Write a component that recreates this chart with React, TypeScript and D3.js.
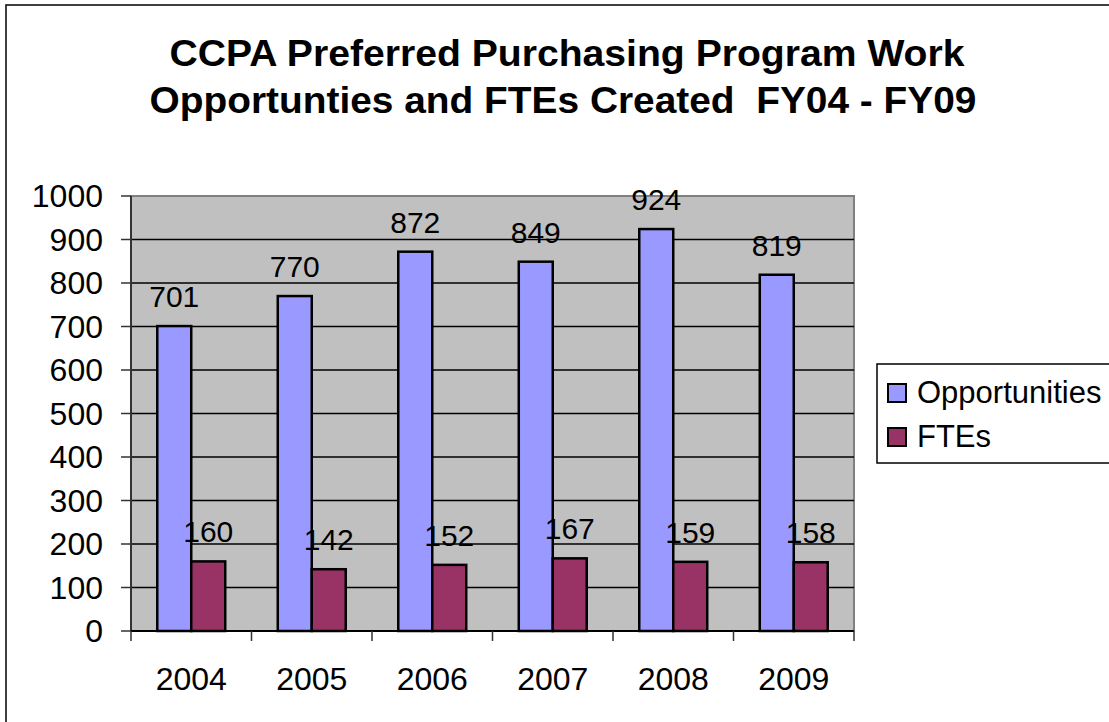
import React from 'react';
import * as d3 from 'd3';

const years = ['2004', '2005', '2006', '2007', '2008', '2009'];
const opportunities = [701, 770, 872, 849, 924, 819];
const ftes = [160, 142, 152, 167, 159, 158];
const yTicks = [0, 100, 200, 300, 400, 500, 600, 700, 800, 900, 1000];
const seriesNames = ['Opportunities', 'FTEs'];
const seriesColors = ['#9999FF', '#993366'];
const titleLines = [
  'CCPA Preferred Purchasing Program Work',
  'Opportunties and FTEs Created\u00a0\u00a0FY04 - FY09',
];

const App = () => {
  const Width = 1109;
  const Height = 722;
  const plot = { left: 131, right: 854, top: 196, bottom: 631 };
  const font = 'Liberation Sans, Arial, sans-serif';

  const yScale = d3.scaleLinear().domain([0, 1000]).range([plot.bottom, plot.top]);

  // category slots (for ticks / labels) and bar groups inside them
  const xSlot = d3.scaleBand().domain(years).range([plot.left, plot.right]).padding(0);
  const xGroup = d3
    .scaleBand()
    .domain(years)
    .range([plot.left, plot.right])
    .paddingInner(0.436)
    .paddingOuter(0.218);
  const xSeries = d3.scaleBand().domain(seriesNames).range([0, xGroup.bandwidth()]);

  const values = [opportunities, ftes];

  const bars = years.map((yr, i) => (
    <g key={yr} transform={`translate(${xGroup(yr)}, 0)`}>
      {seriesNames.map((s, si) => {
        const v = values[si][i];
        const x = xSeries(s) as number;
        return (
          <g key={s}>
            <rect
              x={x}
              y={yScale(v)}
              width={xSeries.bandwidth()}
              height={plot.bottom - yScale(v)}
              fill={seriesColors[si]}
              stroke="#000"
              strokeWidth={2.5}
            />
            <text
              x={x + xSeries.bandwidth() / 2}
              y={yScale(v) - 19}
              textAnchor="middle"
              style={{ fontSize: '30px', fontFamily: font }}
            >
              {v}
            </text>
          </g>
        );
      })}
    </g>
  ));

  const slotEdges = [...years.map((y) => xSlot(y) as number), plot.right];
  const titleX = [567, 563];
  const titleLen = [795, 827];

  return (
    <svg
      width={Width}
      height={Height}
      style={{ position: 'absolute', left: 0, top: 0, display: 'block', background: '#fff' }}
    >
      <rect x={6} y={5} width={1200} height={800} fill="#fff" stroke="#000" strokeWidth={1.5} />

      {titleLines.map((t, i) => (
        <text
          key={i}
          x={titleX[i]}
          y={66 + i * 47}
          textAnchor="middle"
          textLength={titleLen[i]}
          lengthAdjust="spacingAndGlyphs"
          style={{ fontSize: '36px', fontWeight: 'bold', fontFamily: font }}
        >
          {t}
        </text>
      ))}

      <rect
        x={plot.left}
        y={plot.top}
        width={plot.right - plot.left}
        height={plot.bottom - plot.top}
        fill="#C0C0C0"
        stroke="#808080"
        strokeWidth={2}
      />

      {yTicks.filter((t) => t > 0 && t < 1000).map((t) => (
        <line key={t} x1={plot.left} x2={plot.right} y1={yScale(t)} y2={yScale(t)} stroke="#000" strokeWidth={1.5} />
      ))}

      {bars}

      {/* y axis */}
      <line x1={plot.left} x2={plot.left} y1={plot.top} y2={plot.bottom} stroke="#333" strokeWidth={2} />
      {yTicks.map((t) => (
        <g key={t}>
          <line x1={plot.left - 10} x2={plot.left} y1={yScale(t)} y2={yScale(t)} stroke="#333" strokeWidth={1.5} />
          <text
            x={plot.left - 28}
            y={yScale(t) + 11}
            textAnchor="end"
            style={{ fontSize: '32px', fontFamily: font }}
          >
            {t}
          </text>
        </g>
      ))}

      {/* x axis */}
      <line x1={plot.left} x2={plot.right} y1={plot.bottom} y2={plot.bottom} stroke="#000" strokeWidth={2} />
      {slotEdges.map((x, i) => (
        <line key={i} x1={x} x2={x} y1={plot.bottom} y2={plot.bottom + 10} stroke="#333" strokeWidth={1.5} />
      ))}
      {years.map((yr) => (
        <text
          key={yr}
          x={(xSlot(yr) as number) + xSlot.bandwidth() / 2}
          y={690}
          textAnchor="middle"
          style={{ fontSize: '32px', fontFamily: font }}
        >
          {yr}
        </text>
      ))}

      {/* legend */}
      <rect x={877} y={364} width={300} height={99} fill="#fff" stroke="#000" strokeWidth={1.5} />
      {seriesNames.map((s, i) => (
        <g key={s} transform={`translate(888, ${384 + i * 44})`}>
          <rect x={0} y={0} width={18} height={18} fill={seriesColors[i]} stroke="#000" strokeWidth={2} />
          <text x={29} y={19} style={{ fontSize: '31px', fontFamily: font }}>
            {s}
          </text>
        </g>
      ))}
    </svg>
  );
};

export default App;
